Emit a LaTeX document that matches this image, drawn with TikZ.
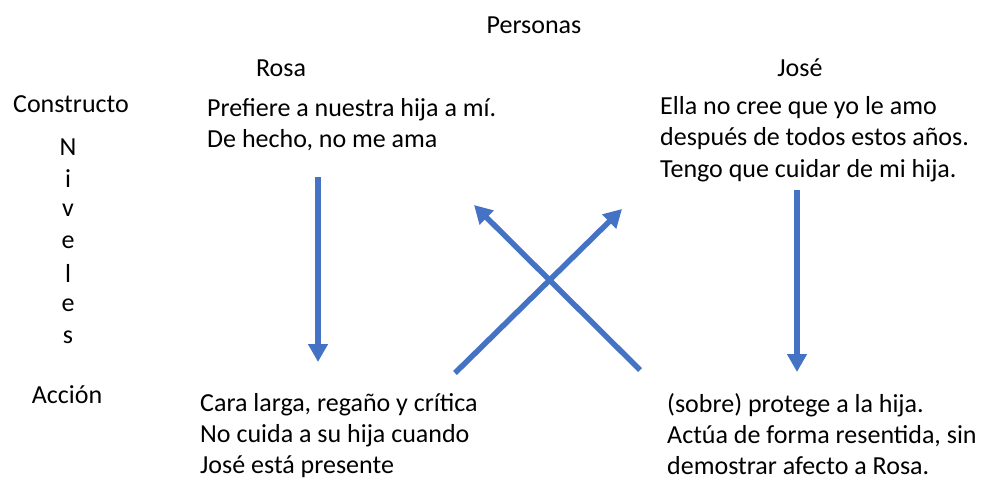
\documentclass[tikz,border=0pt]{standalone}
\usepackage{fontspec}
\setmainfont{Carlito}
\usetikzlibrary{arrows.meta}
\definecolor{arrowblue}{HTML}{4472C4}
\tikzset{
  lbl/.style={font=\fontsize{26}{31.5}\selectfont, inner sep=0pt},
  txt/.style={lbl, align=left, anchor=north west},
  flow/.style={draw=arrowblue, line width=5.5pt, -{Triangle[length=18pt,width=19pt]}},
}

\begin{document}
\begin{tikzpicture}[x=1pt, y=-1pt]
    \useasboundingbox (0,0) rectangle (989,480);
    % headings
    \node[lbl] (personas) at (534,25) {Personas};
    \node[lbl] (rosa) at (281,68) {Rosa};
    \node[lbl] (jose) at (800,68) {José};
    \node[lbl] (constructo) at (71,104) {Constructo};
    \node[lbl] (accion) at (67,395) {Acción};
    \foreach \c [count=\i] in {N,i,v,e,l,e,s}
        \node[lbl] (niv\i) at (68,{147+31.7*(\i-1)}) {\c};
    % constructs and actions
    \node[txt] (rosaC) at (207,98) {Prefiere a nuestra hija a mí.\\De hecho, no me ama};
    \node[txt] (joseC) at (660,96) {Ella no cree que yo le amo\\después de todos estos años.\\Tengo que cuidar de mi hija.};
    \node[txt, font=\fontsize{26}{31}\selectfont] (rosaA) at (200,393) {Cara larga, regaño y crítica\\No cuida a su hija cuando\\José está presente};
    \node[txt, font=\fontsize{26}{31}\selectfont] (joseA) at (667,393) {(sobre) protege a la hija.\\Actúa de forma resentida, sin\\demostrar afecto a Rosa.};
    % arrows
    \coordinate (rosaTop) at (318,177);
    \coordinate (rosaBot) at (318,362);
    \coordinate (joseTop) at (797,190);
    \coordinate (joseBot) at (797,372);
    \coordinate (crossA) at (455,373);
    \coordinate (crossB) at (622,209);
    \coordinate (crossC) at (640,370);
    \coordinate (crossD) at (474,205);
    \draw[flow] (rosaTop) -- (rosaBot);
    \draw[flow] (joseTop) -- (joseBot);
    \draw[flow] (crossA) -- (crossB);
    \draw[flow] (crossC) -- (crossD);
\end{tikzpicture}
\end{document}
